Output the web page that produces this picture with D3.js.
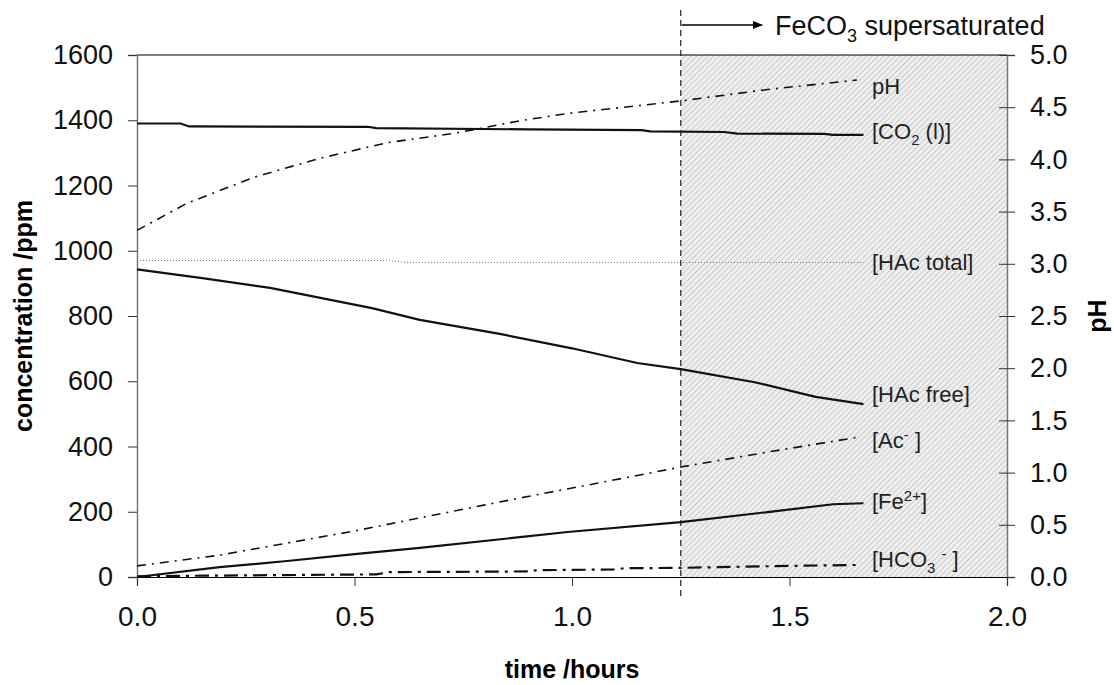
<!DOCTYPE html>
<html lang="en">
<style>
body { margin: 0; background: #fff; }
.axis text { font-family: "Liberation Sans", Arial, sans-serif; font-size: 27px; fill: #111; }
.title { font-family: "Liberation Sans", Arial, sans-serif; font-weight: bold; font-size: 25px; fill: #000; }
.lbl { font-family: "Liberation Sans", Arial, sans-serif; font-size: 22px; fill: #222; }
</style>
<script type="text/javascript" src="https://d3js.org/d3.v7.min.js"></script>
<body>
<script type="text/javascript">

var width = 1114,
    height = 685;

// plot box
var plotL = 137, plotR = 1007, plotT = 55, plotB = 577;

// data (time in hours)
var co2Time   = [0, 0.1, 0.12, 0.53, 0.55, 0.9, 1.16, 1.18, 1.35, 1.38, 1.58, 1.6, 1.67];
var co2Vals   = [1390, 1390, 1381, 1380, 1376, 1372, 1370, 1366, 1364, 1359, 1358, 1355, 1355];
var hacTotTime = [0, 0.58, 0.62, 1.67];
var hacTotVals = [970, 970, 964, 964];
var hacFreeTime = [0, 0.15, 0.306, 0.54, 0.65, 0.834, 1.0, 1.15, 1.25, 1.42, 1.56, 1.67];
var hacFreeVals = [943, 916, 886, 824, 788, 745, 701, 656, 637, 597, 552, 530];
var acTime    = [0, 0.19, 0.345, 0.5, 0.65, 0.8, 0.88, 1.06, 1.25, 1.45, 1.66];
var acVals    = [34, 67, 104, 141, 181, 221, 242, 288, 337, 383, 429];
var feTime    = [0, 0.19, 0.345, 0.5, 0.65, 0.88, 0.99, 1.25, 1.45, 1.6, 1.67];
var feVals    = [0, 30, 49, 70, 89, 122, 138, 168, 199, 223, 226];
var hco3Time  = [0, 0.15, 0.55, 0.58, 0.9, 0.92, 1.1, 1.12, 1.25, 1.45, 1.66];
var hco3Vals  = [2, 4, 8, 15, 17, 21, 23, 27, 28, 33, 37];
var phTime    = [0, 0.115, 0.27, 0.42, 0.575, 0.73, 0.88, 0.99, 1.25, 1.45, 1.655];
var phVals    = [3.32, 3.58, 3.83, 4.01, 4.16, 4.25, 4.37, 4.44, 4.56, 4.67, 4.76];

var xTicks  = [0, 0.5, 1.0, 1.5, 2.0];
var yTicks  = [0, 200, 400, 600, 800, 1000, 1200, 1400, 1600];
var yRTicks = [0, 0.5, 1.0, 1.5, 2.0, 2.5, 3.0, 3.5, 4.0, 4.5, 5.0];
var supersatStart = 1.25;

var svg = d3.select("body").append("svg")
    .attr("width", width)
    .attr("height", height);

var x  = d3.scaleLinear().domain([0, 2]).range([plotL, plotR]);
var y  = d3.scaleLinear().domain([0, 1600]).range([plotB, plotT]);
var yR = d3.scaleLinear().domain([0, 5]).range([plotB, plotT]);

// hatch for supersaturated region
var defs = svg.append("defs");
var pat = defs.append("pattern")
    .attr("id", "hatch")
    .attr("width", 4).attr("height", 4)
    .attr("patternUnits", "userSpaceOnUse")
    .attr("patternTransform", "rotate(45)");
pat.append("rect").attr("width", 4).attr("height", 4).attr("fill", "#efefef");
pat.append("line").attr("x1", 0).attr("y1", 0).attr("x2", 0).attr("y2", 4)
    .attr("stroke", "#c2c2c2").attr("stroke-width", 1.6);

svg.append("rect")
    .attr("x", x(supersatStart)).attr("y", plotT)
    .attr("width", x(2) - x(supersatStart)).attr("height", plotB - plotT)
    .attr("fill", "url(#hatch)");

// top border
svg.append("line")
    .attr("x1", plotL).attr("x2", plotR).attr("y1", plotT).attr("y2", plotT)
    .attr("stroke", "#000").attr("stroke-width", 1.2);

// axes
var gL = svg.append("g").attr("class", "axis")
    .attr("transform", "translate(" + plotL + ",0)")
    .call(d3.axisLeft(y).tickValues(yTicks).tickSize(9).tickPadding(15).tickFormat(d3.format("d")));
gL.select(".domain").attr("stroke", "#777").attr("stroke-width", 1.5);
gL.selectAll(".tick line").attr("stroke", "#333");

var gR = svg.append("g").attr("class", "axis")
    .attr("transform", "translate(" + plotR + ",0)")
    .call(d3.axisRight(yR).tickValues(yRTicks).tickSize(8).tickPadding(15).tickFormat(d3.format(".1f")));
gR.select(".domain").attr("stroke", "#777").attr("stroke-width", 1.5);
gR.selectAll(".tick line").attr("x1", -8).attr("stroke", "#333");

var gB = svg.append("g").attr("class", "axis")
    .attr("transform", "translate(0," + plotB + ")")
    .call(d3.axisBottom(x).tickValues(xTicks).tickSize(9).tickPadding(20).tickFormat(d3.format(".1f")));
gB.select(".domain").attr("stroke", "#000").attr("stroke-width", 1.2);
gB.selectAll(".tick line").attr("stroke", "#333");
gB.selectAll("text").style("font-size", "28px");

// series
function pairs(t, v) { return t.map(function(d, i) { return [d, v[i]]; }); }

var lineL = d3.line().x(function(d) { return x(d[0]); }).y(function(d) { return y(d[1]); });
var lineR = d3.line().x(function(d) { return x(d[0]); }).y(function(d) { return yR(d[1]); });

var series = [
  { data: pairs(hacTotTime, hacTotVals), line: lineL, stroke: "#777", w: 1, dash: "1,2" },
  { data: pairs(co2Time, co2Vals), line: lineL, stroke: "#111", w: 2.2, dash: null },
  { data: pairs(hacFreeTime, hacFreeVals), line: lineL, stroke: "#111", w: 2.2, dash: null },
  { data: pairs(feTime, feVals), line: lineL, stroke: "#111", w: 2.2, dash: null },
  { data: pairs(acTime, acVals), line: lineL, stroke: "#111", w: 1.6, dash: "9,6,2,6" },
  { data: pairs(hco3Time, hco3Vals), line: lineL, stroke: "#111", w: 2.2, dash: "14,6,3,6" },
  { data: pairs(phTime, phVals), line: lineR, stroke: "#111", w: 1.6, dash: "9,6,2,6" }
];

svg.append("g").selectAll("path")
  .data(series)
  .enter().append("path")
    .attr("d", function(d) { return d.line(d.data); })
    .attr("fill", "none")
    .attr("stroke", function(d) { return d.stroke; })
    .attr("stroke-width", function(d) { return d.w; })
    .attr("stroke-dasharray", function(d) { return d.dash; });

// supersaturation marker
svg.append("line")
    .attr("x1", x(supersatStart)).attr("x2", x(supersatStart))
    .attr("y1", 10).attr("y2", 597)
    .attr("stroke", "#222").attr("stroke-width", 1.2).attr("stroke-dasharray", "6,4");

defs.append("marker")
    .attr("id", "arrow").attr("viewBox", "0 0 10 10")
    .attr("refX", 9).attr("refY", 5)
    .attr("markerWidth", 8).attr("markerHeight", 8)
    .attr("orient", "auto")
  .append("path").attr("d", "M0,1L10,5L0,9Z").attr("fill", "#000");

svg.append("line")
    .attr("x1", x(supersatStart) + 1).attr("x2", 762)
    .attr("y1", 25).attr("y2", 25)
    .attr("stroke", "#000").attr("stroke-width", 1.3)
    .attr("marker-end", "url(#arrow)");

var sat = svg.append("text").attr("class", "lbl")
    .attr("x", 775).attr("y", 35).style("font-size", "27px").style("fill", "#111");
sat.append("tspan").text("FeCO");
sat.append("tspan").attr("dy", 7).style("font-size", "18px").text("3");
sat.append("tspan").attr("dy", -7).text(" supersaturated");

// series labels
var lx = 872;
function label(yb, parts) {
  var t = svg.append("text").attr("class", "lbl").attr("x", lx).attr("y", yb);
  parts.forEach(function(p) {
    var s = t.append("tspan").text(p[0]);
    if (p[1] === "sub") s.attr("dy", 6).style("font-size", "15px");
    if (p[1] === "sup") s.attr("dy", -8).style("font-size", "15px");
    if (p[1] === "back") s.attr("dy", p[2]);
  });
}
label(94, [["pH"]]);
label(139, [["[CO"], ["2", "sub"], [" (l)]", "back", -6]]);
label(270, [["[HAc total]"]]);
label(402, [["[HAc free]"]]);
label(448, [["[Ac"], ["-", "sup"], [" ]", "back", 8]]);
label(509, [["[Fe"], ["2+", "sup"], ["]", "back", 8]]);
label(567, [["[HCO"], ["3", "sub"], [" ", "back", -6], ["-", "sup"], [" ]", "back", 8]]);

// axis titles
svg.append("text").attr("class", "title")
    .attr("transform", "translate(32," + ((plotT + plotB) / 2) + ") rotate(-90)")
    .attr("text-anchor", "middle")
    .text("concentration /ppm");

svg.append("text").attr("class", "title")
    .attr("transform", "translate(1106," + ((plotT + plotB) / 2) + ") rotate(-90)")
    .attr("text-anchor", "middle")
    .text("pH");

svg.append("text").attr("class", "title")
    .attr("x", (plotL + plotR) / 2).attr("y", 678)
    .attr("text-anchor", "middle")
    .text("time /hours");

</script>
</body>
</html>
